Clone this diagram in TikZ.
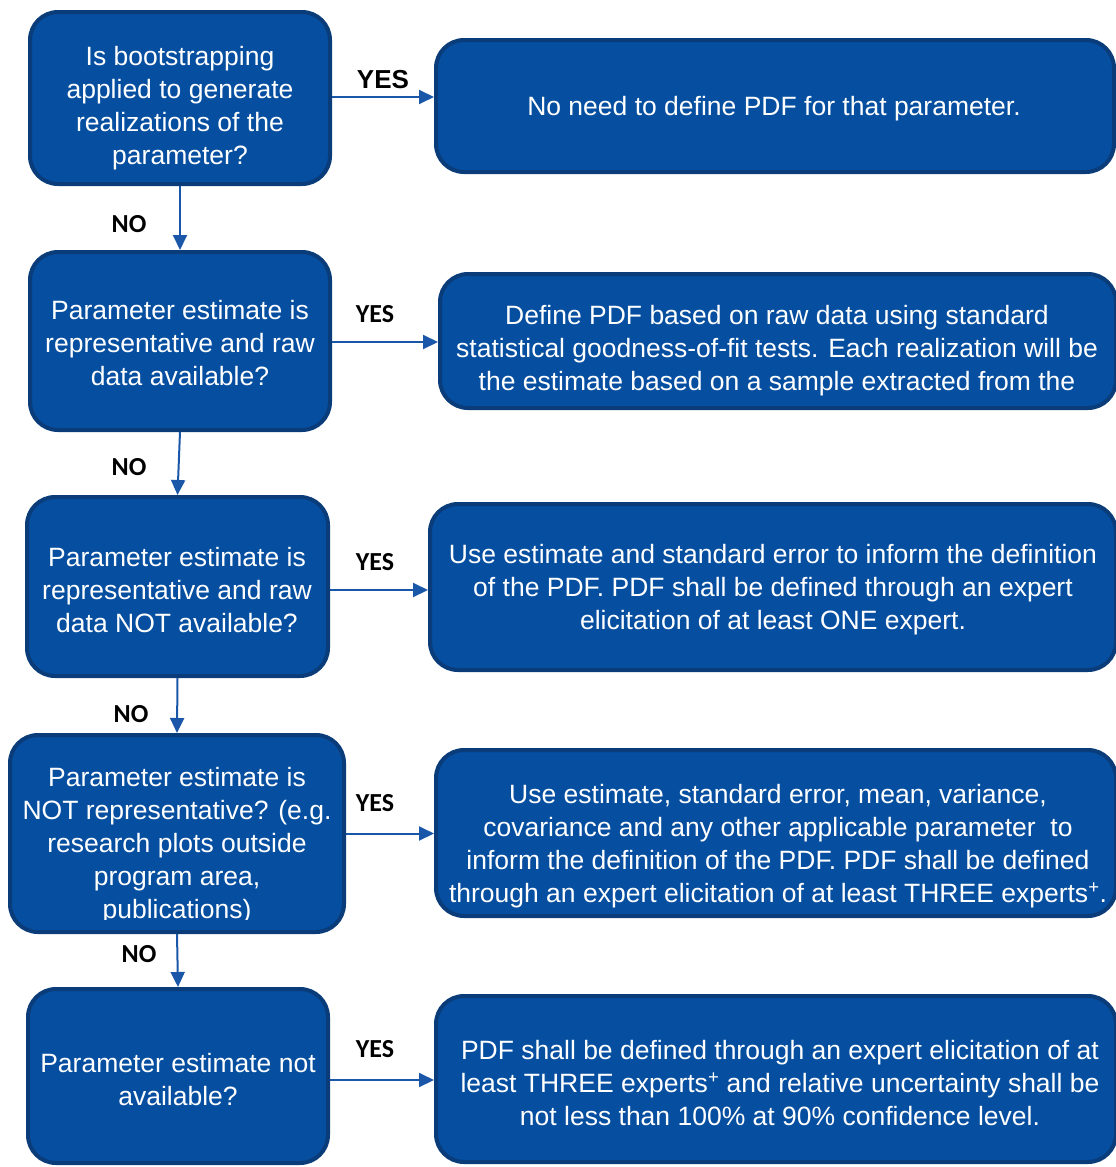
\documentclass[tikz,border=0pt]{standalone}
\usepackage{fontspec}
\setmainfont{Liberation Sans}
\newfontfamily\labelfont{Carlito}
\usetikzlibrary{arrows.meta}
\definecolor{boxblue}{HTML}{054EA0}
\definecolor{boxedge}{HTML}{0B3C7A}
\definecolor{arrowblue}{HTML}{1A57A8}
\begin{document}
\begin{tikzpicture}[x=1pt,y=-1pt,
  box/.style={rectangle, rounded corners=28pt, fill=boxblue, draw=boxedge, line width=4pt, inner sep=0pt},
  boxtext/.style={text=white, align=center, inner sep=0pt, font=\fontsize{26.5}{33}\selectfont},
  answer/.style={inner sep=0pt, font=\labelfont\bfseries\fontsize{26}{30}\selectfont},
  arr/.style={draw=arrowblue, line width=2pt, -{Triangle[length=15pt,width=14pt]}}]
\useasboundingbox (0,0) rectangle (1116,1167);
\node [box, minimum width=300pt, minimum height=172pt] (q1) at (180,98) {};
\node [box, minimum width=300pt, minimum height=178pt] (q2) at (180,341) {};
\node [box, minimum width=301pt, minimum height=179pt] (q3) at (177.5,586.5) {};
\node [box, minimum width=334pt, minimum height=197pt] (q4) at (177,833.5) {};
\node [box, minimum width=300pt, minimum height=174pt] (q5) at (178,1076) {};
\node [box, minimum width=678pt, minimum height=132pt] (a1) at (775,106) {};
\node [box, minimum width=676pt, minimum height=134pt] (a2) at (778,341) {};
\node [box, minimum width=686pt, minimum height=166pt] (a3) at (773,587) {};
\node [box, minimum width=680pt, minimum height=166pt] (a4) at (776,833) {};
\node [box, minimum width=680pt, minimum height=166pt] (a5) at (776,1079) {};
\node [boxtext] (q1t) at (180,108) {Is bootstrapping\\applied to generate\\realizations of the\\parameter?};
\node [boxtext] (q2t) at (180,343) {Parameter estimate is\\representative and raw\\data available?};
\node [boxtext] (q3t) at (177,590) {Parameter estimate is\\representative and raw\\data NOT available?};
\begin{scope}
\clip (8,733) rectangle (346,919);
\node [boxtext] (q4t) at (177,846) {Parameter estimate is\\NOT representative? (e.g.\\research plots outside\\program area,\\publications)};
\end{scope}
\node [boxtext] (q5t) at (178,1080) {Parameter estimate not\\available?};
\node [boxtext] (a1t) at (774,109) {No need to define PDF for that parameter.};
\node [boxtext] (a2t) at (777,351) {Define PDF based on raw data using standard\\statistical goodness-of-fit tests. Each realization will be\\the estimate based on a sample extracted from the};
\node [boxtext] (a3t) at (773,590) {Use estimate and standard error to inform the definition\\of the PDF. PDF shall be defined through an expert\\elicitation of at least ONE expert.};
\node [boxtext] (a4t) at (778,846) {Use estimate, standard error, mean, variance,\\covariance and any other applicable parameter\ \ to\\inform the definition of the PDF. PDF shall be defined\\through an expert elicitation of at least THREE experts\textsuperscript{+}.};
\node [boxtext] (a5t) at (780,1083) {PDF shall be defined through an expert elicitation of at\\least THREE experts\textsuperscript{+} and relative uncertainty shall be\\not less than 100\% at 90\% confidence level.};
\node [inner sep=0pt, font=\bfseries\fontsize{26}{30}\selectfont] (yes1) at (383,80) {YES};
\node [answer] (yes2) at (375,314) {YES};
\node [answer] (yes3) at (375,562) {YES};
\node [answer] (yes4) at (375,803) {YES};
\node [answer] (yes5) at (375,1049) {YES};
\node [answer] (no1) at (129,224) {NO};
\node [answer] (no2) at (129,467) {NO};
\node [answer] (no3) at (131,714) {NO};
\node [answer] (no4) at (139,954) {NO};
\draw [arr] (q1.south) -- (q2.north);
\draw [arr] (q2.south) -- (q3.north);
\draw [arr] (q3.south) -- (q4.north);
\draw [arr] (q4.south) -- (q5.north);
\draw [arr] ([yshift=1pt]q1.east) -- ([yshift=1pt]q1.east -| a1.west);
\draw [arr] ([yshift=-1pt]q2.east) -- ([yshift=-1pt]q2.east -| a2.west);
\draw [arr] ([yshift=-3.5pt]q3.east) -- ([yshift=-3.5pt]q3.east -| a3.west);
\draw [arr] (q4.east) -- (q4.east -| a4.west);
\draw [arr] ([yshift=-4pt]q5.east) -- ([yshift=-4pt]q5.east -| a5.west);
\end{tikzpicture}
\end{document}
